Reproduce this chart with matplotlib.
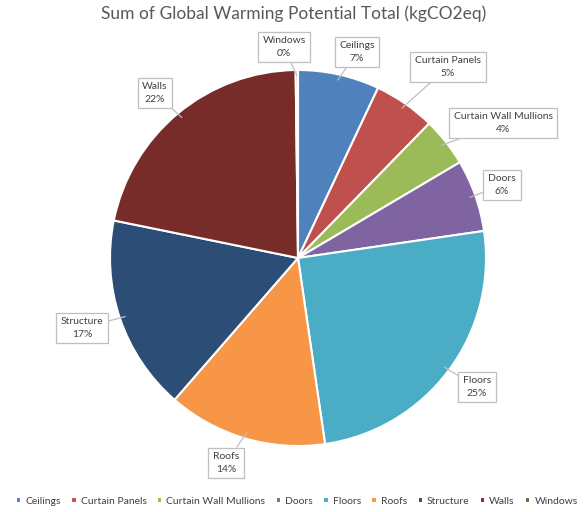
import matplotlib.pyplot as plt
import numpy as np

categories = ["Ceilings", "Curtain Panels", "Curtain Wall Mullions", "Doors",
              "Floors", "Roofs", "Structure", "Walls", "Windows"]
gwp_share = [7.0, 5.3, 4.2, 6.2, 25.0, 13.7, 16.8, 21.6, 0.2]
colors = ["#4F81BD", "#C0504D", "#9BBB59", "#8064A2", "#4BACC6",
          "#F79646", "#2C4D75", "#772C2A", "#5F7530"]

# callout box centres (pixels from top-left)
label_pos = {
    "Ceilings": (357, 52), "Curtain Panels": (448, 67),
    "Curtain Wall Mullions": (503, 123), "Doors": (502, 185),
    "Floors": (477, 387), "Roofs": (226, 463), "Structure": (82, 328),
    "Walls": (155, 93), "Windows": (284, 47),
}

plt.rcParams['font.family'] = ['Lato', 'DejaVu Sans']
W, H = 588, 512
fig = plt.figure(figsize=(W / 100, H / 100), dpi=100)
ax = fig.add_axes([0, 0, 1, 1])

cx, cy, r = 298, H - 258, 188
wedges, _ = ax.pie(gwp_share, colors=colors, startangle=90, counterclock=False,
                   center=(cx, cy), radius=r, frame=True,
                   wedgeprops=dict(edgecolor='white', linewidth=1.5))
ax.set_xlim(0, W)
ax.set_ylim(0, H)
ax.set_aspect('equal')
ax.axis('off')

total = sum(gwp_share)
for w, name, val in zip(wedges, categories, gwp_share):
    mid = np.deg2rad((w.theta1 + w.theta2) / 2)
    px, py = cx + r * 0.97 * np.cos(mid), cy + r * 0.97 * np.sin(mid)
    lx, ly = label_pos[name]
    ax.annotate(f"{name}\n{val / total * 100:.0f}%", xy=(px, py),
                xytext=(lx, H - ly), ha='center', va='center',
                fontsize=7.5, color='#404040', linespacing=1.5,
                bbox=dict(boxstyle='square,pad=0.45', fc='white',
                          ec='#bfbfbf', lw=0.9),
                arrowprops=dict(arrowstyle='-', color='#bfbfbf', lw=0.9,
                                shrinkA=0, shrinkB=0))

fig.text(0.5, 1 - 14 / H, "Sum of Global Warming Potential Total (kgCO2eq)",
         ha='center', va='center', fontsize=12.5, color='#595959')

fig.legend(wedges, categories, loc='center', bbox_to_anchor=(0.505, 1 - 501 / H),
           ncol=9, frameon=False, fontsize=7.5, handlelength=0.5,
           handleheight=0.5, handletextpad=0.4, columnspacing=1.0,
           labelcolor='#404040')

fig.savefig("out.png", dpi=100)
